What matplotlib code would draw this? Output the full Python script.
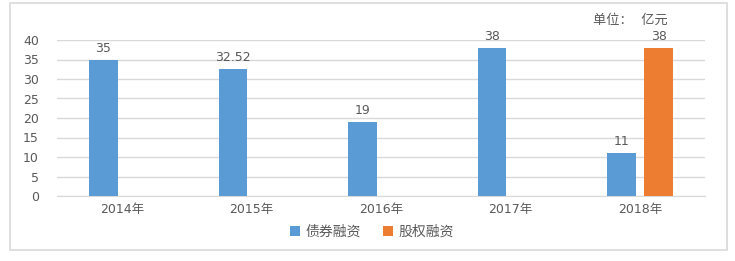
import numpy as np
import matplotlib.pyplot as plt
from matplotlib.patches import Rectangle

# DejaVu first: its digits are wide like in the reference, CJK falls back
plt.rcParams['font.family'] = ['DejaVu Sans', 'Noto Sans CJK SC']

years = ['2014年', '2015年', '2016年', '2017年', '2018年']
debt = [35, 32.52, 19, 38, 11]
equity = [np.nan, np.nan, np.nan, np.nan, 38]
debt_labels = ['35', '32.52', '19', '38', '11']
equity_labels = ['', '', '', '', '38']

blue = '#5B9BD5'
orange = '#ED7D31'
txt = '#595959'
fs = 9

fig = plt.figure(figsize=(7.35, 2.61), dpi=100)
ax = fig.add_axes([57 / 735, 1 - 196 / 261, 648 / 735, 156 / 261])

x = np.arange(len(years))
w = 0.22
off = 0.143
b1 = ax.bar(x - off, debt, w, color=blue, label='债券融资', zorder=3)
b2 = ax.bar(x + off, equity, w, color=orange, label='股权融资', zorder=3)

for rect, lab in zip(b1, debt_labels):
    ax.text(rect.get_x() + rect.get_width() / 2, rect.get_height() + 1.2, lab,
            ha='center', va='bottom', fontsize=fs, color=txt)
for rect, lab in zip(b2, equity_labels):
    if lab:
        ax.text(rect.get_x() + rect.get_width() / 2, rect.get_height() + 1.2, lab,
                ha='center', va='bottom', fontsize=fs, color=txt)

ax.set_xlim(-0.5, len(years) - 0.5)
ax.set_ylim(0, 40)
ax.set_yticks(range(0, 41, 5))
ax.set_xticks(x)
ax.set_xticklabels(years)
ax.tick_params(axis='both', length=0, labelsize=fs, colors=txt)
ax.tick_params(axis='y', pad=13)
ax.tick_params(axis='x', pad=5)
ax.grid(axis='y', color='#D9D9D9', linewidth=1, zorder=0)
for s in ['top', 'right', 'left']:
    ax.spines[s].set_visible(False)
ax.spines['bottom'].set_color('#D9D9D9')

fig.text(630 / 735, 1 - 20 / 261, '单位：  亿元', ha='center', va='center',
         fontsize=fs + 0.5, color=txt)

fig.legend(handles=[b1, b2], loc='center', bbox_to_anchor=(372 / 735, 1 - 232 / 261),
           ncol=2, frameon=False, fontsize=fs + 1, labelcolor=txt,
           handlelength=0.7, handleheight=0.7, columnspacing=1.6, handletextpad=0.4)

fig.patches.append(Rectangle((10 / 735, 1 - 250 / 261), 717 / 735, 247 / 261,
                             transform=fig.transFigure, fill=False,
                             edgecolor='#D9D9D9', linewidth=1.2))

fig.savefig('out.png', dpi=100)
